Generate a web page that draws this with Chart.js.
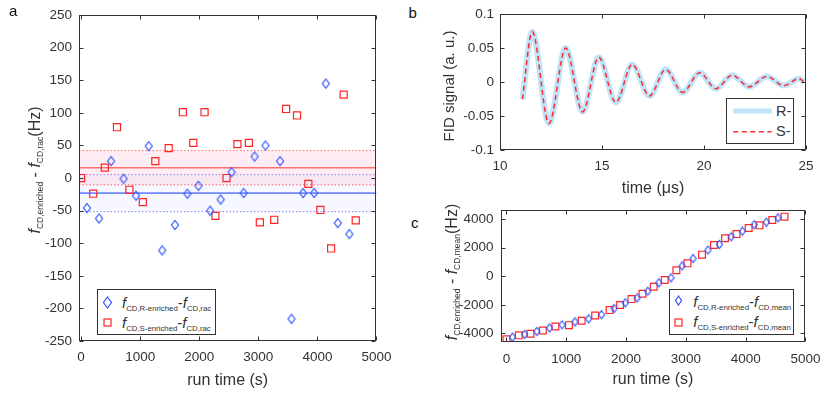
<!DOCTYPE html>
<html>
<head>
<meta charset="utf-8">
<title>CD frequency drift</title>
<script src="https://cdn.jsdelivr.net/npm/chart.js@4.4.1/dist/chart.umd.min.js"></script>
<style>
  body { margin: 0; width: 830px; height: 394px; position: relative; overflow: hidden; background: #fff; font-family: 'Liberation Sans', Arial, sans-serif; color: #333; }
  canvas { position: absolute; }
  #chartA { left: 0; top: 0; }
  #chartB { left: 430px; top: 0; }
  #chartC { left: 430px; top: 195px; }
  .panel { position: absolute; font-size: 15px; line-height: 15px; color: #111; }
  .ytitle { position: absolute; white-space: nowrap; font-size: 16px; line-height: 16px; transform: translate(-50%, -50%) rotate(-90deg); }
  sub { font-size: 8.5px; line-height: 0; vertical-align: -3px; }
  .legend { position: absolute; background: #fff; border: 1px solid #333; box-sizing: border-box; z-index: 2; }
  .legend svg { position: absolute; }
  .row { position: absolute; white-space: nowrap; font-size: 15px; line-height: 15px; }
  .legend sub { font-size: 7.8px; }
</style>
</head>
<body>
<canvas id="chartA" width="400" height="394"></canvas>
<canvas id="chartB" width="400" height="200"></canvas>
<canvas id="chartC" width="400" height="199"></canvas>

<div class="panel" style="left:9px;top:3px">a</div>
<div class="panel" style="left:408.5px;top:5px">b</div>
<div class="panel" style="left:411px;top:215px">c</div>

<div class="ytitle" style="left:35px;top:170px"><i>f</i><sub>CD,enriched</sub> - <i>f</i><sub>CD,rac</sub>(Hz)</div>
<div class="ytitle" style="left:449px;top:86px;font-size:15px">FID signal (a. u.)</div>
<div class="ytitle" style="left:452px;top:272px"><i>f</i><sub>CD,enriched</sub> - <i>f</i><sub>CD,mean</sub>(Hz)</div>

<div class="legend" style="left:97px;top:289px;width:119px;height:46px">
  <svg style="left:3.5px;top:5.5px" width="11" height="13"><polygon points="5.5,1 9.5,6.5 5.5,12 1.5,6.5" fill="none" stroke="#2e55ff" stroke-width="1.2"/></svg>
  <svg style="left:3.5px;top:26.8px" width="11" height="11"><rect x="2" y="2" width="7" height="7" fill="none" stroke="#ff2424" stroke-width="1.2"/></svg>
  <div class="row" style="left:24px;top:4.5px"><i>f</i><sub>CD,R-enriched</sub>-<i>f</i><sub>CD,rac</sub></div>
  <div class="row" style="left:24px;top:24.8px"><i>f</i><sub>CD,S-enriched</sub>-<i>f</i><sub>CD,rac</sub></div>
</div>

<div class="legend" style="left:726px;top:98px;width:68px;height:46px">
  <svg style="left:0;top:0" width="66" height="44">
    <line x1="6.3" y1="12" x2="44.7" y2="12" stroke="#bfe3f8" stroke-width="5"/>
    <line x1="6.3" y1="32.7" x2="44.7" y2="32.7" stroke="#ff2a2a" stroke-width="1.5" stroke-dasharray="5 3.5"/>
  </svg>
  <div class="row" style="left:49px;top:4.5px;font-size:14.5px">R-</div>
  <div class="row" style="left:49px;top:25.2px;font-size:14.5px">S-</div>
</div>

<div class="legend" style="left:669px;top:289px;width:125px;height:46px">
  <svg style="left:4.2px;top:5.2px" width="9" height="11"><polygon points="4.5,1 7.5,5.5 4.5,10 1.5,5.5" fill="none" stroke="#2e55ff" stroke-width="1.2"/></svg>
  <svg style="left:2.5px;top:27.2px" width="11" height="11"><rect x="2" y="2" width="7" height="7" fill="none" stroke="#ff2424" stroke-width="1.2"/></svg>
  <div class="row" style="left:23.3px;top:4.2px"><i>f</i><sub>CD,R-enriched</sub>-<i>f</i><sub>CD,mean</sub></div>
  <div class="row" style="left:23.3px;top:24.2px"><i>f</i><sub>CD,S-enriched</sub>-<i>f</i><sub>CD,mean</sub></div>
</div>

<script>
// run times (s) of the R- and S-enriched measurements
const runTimeR = [100, 304, 508, 720, 930, 1145, 1374, 1590, 1800, 1987, 2185, 2363, 2548, 2752, 2937, 3121, 3369, 3562, 3758, 3945, 4143, 4345, 4541];
const runTimeS = [0, 206, 402, 608, 818, 1045, 1257, 1483, 1724, 1900, 2090, 2274, 2462, 2646, 2841, 3026, 3269, 3470, 3655, 3847, 4050, 4232, 4445, 4649];

// a: f_CD,enriched - f_CD,rac (Hz)
const devR = [-46, -62, 26, -1, -27, 49, -111, -72, -24, -12, -50, -33, 9, -23, 33, 50, 26, -216, -23, -23, 145, -69, -86];
const devS = [0, -24, 16, 78, -18, -37, 26, 46, 101, 54, 101, -58, 0, 52, 54, -68, -64, 106, 96, -9, -49, -108, 128, -65];
// mean and standard deviation of each set (Hz)
const meanR = -23.2, sdR = 28.4;
const meanS = 15.8, sdS = 26.3;

// b: FID signal (a. u.) vs time (us)
const fidTime = [11.1, 11.58, 12.40, 13.22, 14.05, 14.84, 15.68, 16.48, 17.33, 18.12, 18.95, 19.79, 20.59, 21.38, 22.22, 23.07, 23.92, 24.65, 24.9];
const fidR = [-0.025, 0.074, -0.061, 0.050, -0.044, 0.0365, -0.030, 0.026, -0.0205, 0.0187, -0.0152, 0.0138, -0.0098, 0.0101, -0.007, 0.0083, -0.0052, 0.005, 0.0005];
const fidS = [-0.025, 0.074, -0.061, 0.050, -0.044, 0.0365, -0.030, 0.026, -0.0205, 0.0187, -0.0152, 0.0138, -0.0098, 0.0101, -0.007, 0.0083, -0.0052, 0.005, 0.0005];

// c: f_CD,enriched - f_CD,mean (Hz)
const driftR = [-4260, -4067, -3860, -3620, -3400, -3190, -2980, -2690, -2250, -1860, -1513, -1047, -460, -113, 720, 1240, 1830, 2220, 2753, 3153, 3600, 3773, 4077];
const driftS = [-4410, -4135, -4020, -3800, -3520, -3423, -3113, -2745, -2370, -2010, -1600, -1227, -733, -270, 410, 897, 1507, 2175, 2650, 2943, 3373, 3553, 3933, 4163];

// axes
const aXLim = [-35, 5000], aYLim = [-250, 250];
const aXTicks = [0, 1000, 2000, 3000, 4000, 5000];
const aYTicks = [-250, -200, -150, -100, -50, 0, 50, 100, 150, 200, 250];
const bXLim = [10, 25], bYLim = [-0.1, 0.1];
const bXTicks = [10, 15, 20, 25];
const bYTicks = [-0.1, -0.05, 0, 0.05, 0.1];
const cXLim = [-100, 5000], cYLim = [-4600, 4620];
const cXTicks = [0, 1000, 2000, 3000, 4000, 5000];
const cYTicks = [-4000, -2000, 0, 2000, 4000];

const ink = '#333';
const blue = '#2e55ff';
const red = '#ff2424';
Chart.defaults.font.family = "'Liberation Sans', Arial, sans-serif";
Chart.defaults.color = ink;

const pts = (xs, ys) => xs.map((x, i) => ({ x: x, y: ys[i] }));
const hline = (lim, y) => [{ x: lim[0], y: y }, { x: lim[1], y: y }];

function diamond(w, h, color) {
    const c = document.createElement('canvas');
    c.width = w + 3;
    c.height = h + 3;
    const g = c.getContext('2d');
    g.strokeStyle = color;
    g.lineWidth = 1.2;
    g.beginPath();
    g.moveTo(c.width / 2, 1.5);
    g.lineTo(c.width - 1.5, c.height / 2);
    g.lineTo(c.width / 2, c.height - 1.5);
    g.lineTo(1.5, c.height / 2);
    g.closePath();
    g.stroke();
    return c;
}

// box round the plot with inward ticks on all four sides
const framePlugin = {
    id: 'frame',
    afterDraw(chart) {
        const { ctx, chartArea: a, scales } = chart;
        const L = Math.round(a.left) + 0.5, R = Math.round(a.right) - 0.5;
        const T = Math.round(a.top) + 0.5, B = Math.round(a.bottom) - 0.5;
        ctx.save();
        ctx.strokeStyle = ink;
        ctx.lineWidth = 1;
        ctx.strokeRect(L, T, R - L, B - T);
        ctx.beginPath();
        scales.x.ticks.forEach(t => {
            const px = Math.round(scales.x.getPixelForValue(t.value)) + 0.5;
            ctx.moveTo(px, B); ctx.lineTo(px, B - 4);
            ctx.moveTo(px, T); ctx.lineTo(px, T + 4);
        });
        scales.y.ticks.forEach(t => {
            const py = Math.round(scales.y.getPixelForValue(t.value)) + 0.5;
            ctx.moveTo(L, py); ctx.lineTo(L + 4, py);
            ctx.moveTo(R, py); ctx.lineTo(R - 4, py);
        });
        ctx.stroke();
        ctx.restore();
    }
};

function axis(lim, ticks, pad, size, horizontal, title) {
    return {
        type: 'linear',
        min: lim[0],
        max: lim[1],
        bounds: 'data',
        grid: { display: false, drawTicks: false },
        border: { display: false },
        afterBuildTicks: s => { s.ticks = ticks.map(v => ({ value: v })); },
        afterFit: s => { if (horizontal) s.height = size; else s.width = size; },
        ticks: {
            color: ink,
            font: { size: 13.5 },
            padding: pad,
            autoSkip: false,
            maxRotation: 0,
            callback: v => String(v)
        },
        title: title || { display: false }
    };
}

const baseOptions = (padding, scales) => ({
    responsive: false,
    animation: false,
    layout: { padding: padding },
    plugins: { legend: { display: false }, tooltip: { enabled: false } },
    scales: scales
});

// a
new Chart(document.getElementById('chartA'), {
    type: 'scatter',
    data: {
        datasets: [
            { data: pts(runTimeR, devR), pointStyle: diamond(7, 9.5, blue), pointRadius: 5, order: 0 },
            { data: pts(runTimeS, devS), pointStyle: 'rect', pointRadius: 5, borderColor: red, borderWidth: 1.2, backgroundColor: 'rgba(0,0,0,0)', order: 0 },
            { type: 'line', data: hline(aXLim, meanS + sdS), borderColor: 'rgba(255,60,60,0.75)', borderWidth: 1, borderDash: [1.5, 2], pointRadius: 0, fill: '+1', backgroundColor: 'rgba(255,0,90,0.07)', order: 3 },
            { type: 'line', data: hline(aXLim, meanS - sdS), borderColor: 'rgba(255,60,60,0.75)', borderWidth: 1, borderDash: [1.5, 2], pointRadius: 0, fill: false, order: 3 },
            { type: 'line', data: hline(aXLim, meanR + sdR), borderColor: 'rgba(70,90,255,0.7)', borderWidth: 1, borderDash: [1.5, 2], pointRadius: 0, fill: '+1', backgroundColor: 'rgba(0,0,255,0.03)', order: 4 },
            { type: 'line', data: hline(aXLim, meanR - sdR), borderColor: 'rgba(70,90,255,0.7)', borderWidth: 1, borderDash: [1.5, 2], pointRadius: 0, fill: false, order: 4 },
            { type: 'line', data: hline(aXLim, meanS), borderColor: 'rgba(255,80,80,0.8)', borderWidth: 1.6, pointRadius: 0, fill: false, order: 2 },
            { type: 'line', data: hline(aXLim, meanR), borderColor: 'rgba(80,110,255,0.8)', borderWidth: 1.6, pointRadius: 0, fill: false, order: 2 }
        ]
    },
    options: baseOptions({ left: 0, top: 12, right: 21, bottom: 0 }, {
        x: axis(aXLim, aXTicks, 8.5, 53, true, { display: true, text: 'run time (s)', color: ink, font: { size: 16 }, padding: { top: 0, bottom: 4 } }),
        y: axis(aYLim, aYTicks, 7, 79, false)
    }),
    plugins: [framePlugin]
});

// b
new Chart(document.getElementById('chartB'), {
    type: 'line',
    data: {
        datasets: [
            { data: pts(fidTime, fidS), borderColor: '#ff2a2a', borderWidth: 1.5, borderDash: [5, 3.5], pointRadius: 0, cubicInterpolationMode: 'monotone', order: 0 },
            { data: pts(fidTime, fidR), borderColor: '#bfe3f8', borderWidth: 6, pointRadius: 0, cubicInterpolationMode: 'monotone', order: 1 }
        ]
    },
    options: baseOptions({ left: 0, top: 11, right: 24, bottom: 0 }, {
        x: axis(bXLim, bXTicks, 8, 50, true, { display: true, text: 'time (μs)', color: ink, font: { size: 16 }, padding: { top: 0, bottom: 1.6 } }),
        y: axis(bYLim, bYTicks, 6, 70, false)
    }),
    plugins: [framePlugin]
});

// c
new Chart(document.getElementById('chartC'), {
    type: 'scatter',
    data: {
        datasets: [
            { data: pts(runTimeR, driftR), pointStyle: diamond(6, 8, blue), pointRadius: 5, order: 0 },
            { data: pts(runTimeS, driftS), pointStyle: 'rect', pointRadius: 4.8, borderColor: red, borderWidth: 1.2, backgroundColor: 'rgba(0,0,0,0)', order: 1 }
        ]
    },
    options: baseOptions({ left: 0, top: 9, right: 24.5, bottom: 0 }, {
        x: axis(cXLim, cXTicks, 9.5, 52, true, { display: true, text: 'run time (s)', color: ink, font: { size: 16 }, padding: { top: 0, bottom: 4.4 } }),
        y: axis(cYLim, cYTicks, 7, 70.5, false)
    }),
    plugins: [framePlugin]
});
</script>
</body>
</html>
